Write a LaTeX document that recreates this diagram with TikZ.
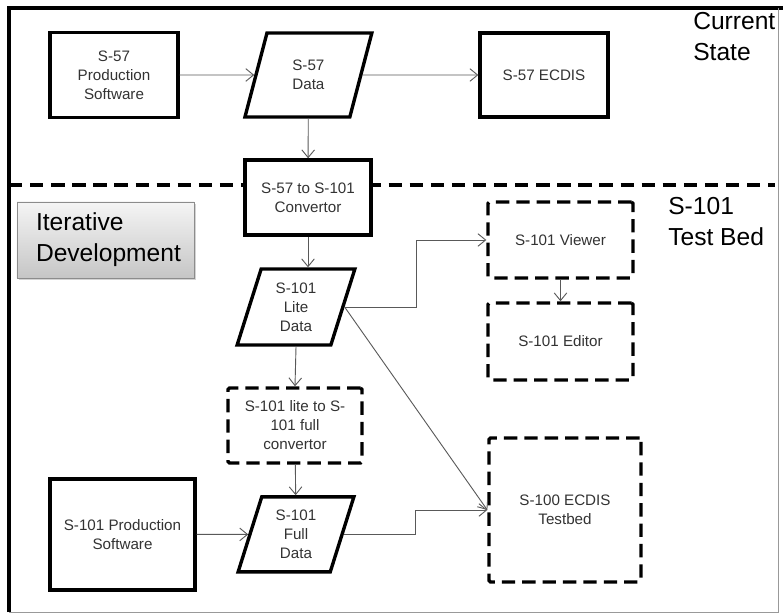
\documentclass[tikz,border=0pt]{standalone}
\usepackage{fontspec}
\setmainfont{Liberation Sans}
\usepackage{xcolor}
\usetikzlibrary{shapes,arrows.meta,positioning,calc,shadows}

\begin{document}
\begin{tikzpicture}[scale=1.0]
  \tikzstyle{lbl}=[font=\fontsize{10.8}{13.5}\selectfont, text=black!80, align=center]
  \tikzstyle{box}=[lbl, rectangle, draw, line width=2.4pt, fill=white]
  \tikzstyle{future}=[lbl, rectangle, draw, line width=2.4pt, fill=white, dash pattern=on 9.5pt off 5pt, rounded corners=1pt]
  \tikzstyle{data}=[lbl, trapezium, trapezium left angle=74, trapezium right angle=106, trapezium stretches=true, draw, line width=2.4pt, fill=white, inner sep=0pt]
  \tikzstyle{conn}=[draw=black!65, line width=0.65pt, -{Straight Barb[length=5.5pt,width=9pt]}]
  \tikzstyle{big}=[font=\fontsize{17.5}{22}\selectfont, align=left, inner sep=0pt]

  \useasboundingbox (0,0) rectangle (19.575,15.35);

  % Rahmen und Trennlinie
  \draw[line width=2.4pt] (0.225,0.05) -- (0.225,15.15) -- (19.575,15.15);
  \draw[black!40, line width=0.7pt] (19.45,15.15) -- (19.45,0.05) -- (0.225,0.05);
  \draw[line width=2.4pt, dash pattern=on 9.5pt off 5.5pt] (0.225,10.725) -- (19.375,10.725);

  \node[big, anchor=north west] (current) at (17.325,15.05) {Current\\State};
  \node[big, anchor=north west] (testbedlbl) at (16.7,10.425) {S-101\\Test Bed};

  \node[big, anchor=center, minimum width=4.425cm, minimum height=1.9cm, text width=3.475cm,
        inner xsep=0.475cm, draw=black!45, line width=0.5pt, top color=gray!8, bottom color=gray!45,
        drop shadow={shadow xshift=1.2pt, shadow yshift=-1.2pt, opacity=0.35}] (iter) at (2.6375,9.35)
        {Iterative\\Development};

  % Heutiger Stand
  \node[box, minimum width=3.2cm, minimum height=2.125cm] (s57prod) at (2.85,13.475) {S-57\\Production\\Software};
  \node[data, minimum width=3.175cm, minimum height=2.1cm] (s57data) at (7.71,13.475) {S-57\\Data};
  \node[box, minimum width=3.2cm, minimum height=2.1cm] (s57ecdis) at (13.6,13.475) {S-57 ECDIS};
  \node[box, minimum width=3.15cm, minimum height=1.875cm] (conv) at (7.7,10.4125) {S-57 to S-101\\Convertor};

  % Testumgebung
  \node[data, minimum width=2.95cm, minimum height=1.9cm] (litedata) at (7.4,7.675) {S-101\\Lite\\Data};
  \node[future, minimum width=3.35cm, minimum height=1.875cm] (liteconv) at (7.375,4.7125) {S-101 lite to S-\\101 full\\convertor};
  \node[data, minimum width=2.9cm, minimum height=1.875cm] (fulldata) at (7.4,1.99) {S-101\\Full\\Data};
  \node[box, minimum width=3.625cm, minimum height=2.775cm] (s101prod) at (3.0625,1.99) {S-101 Production\\Software};
  \node[future, minimum width=3.625cm, minimum height=1.9cm] (viewer) at (14.0125,9.35) {S-101 Viewer};
  \node[future, minimum width=3.625cm, minimum height=1.925cm] (editor) at (14.0125,6.8125) {S-101 Editor};
  \node[future, minimum width=3.8cm, minimum height=3.6cm] (ecdistb) at (14.125,2.6) {S-100 ECDIS\\Testbed};

  \draw[conn] (s57prod) -- (s57data);
  \draw[conn] (s57data) -- (s57ecdis);
  \draw[conn] (s57data) -- (conv);
  \draw[conn] (conv.south) -- (conv.south |- litedata.north);
  \draw[conn] (litedata.east) -- ++(1.8,0) |- (viewer.west);
  \draw[conn] (litedata.east) -- (ecdistb.west);
  \draw[conn] (viewer) -- (editor);
  \draw[conn] (litedata.south) -- (liteconv.north);
  \draw[conn] (liteconv) -- (fulldata);
  \draw[conn] (s101prod) -- (fulldata);
  \draw[conn] (fulldata.east) -- ++(1.8,0) |- (ecdistb.west);
\end{tikzpicture}
\end{document}
